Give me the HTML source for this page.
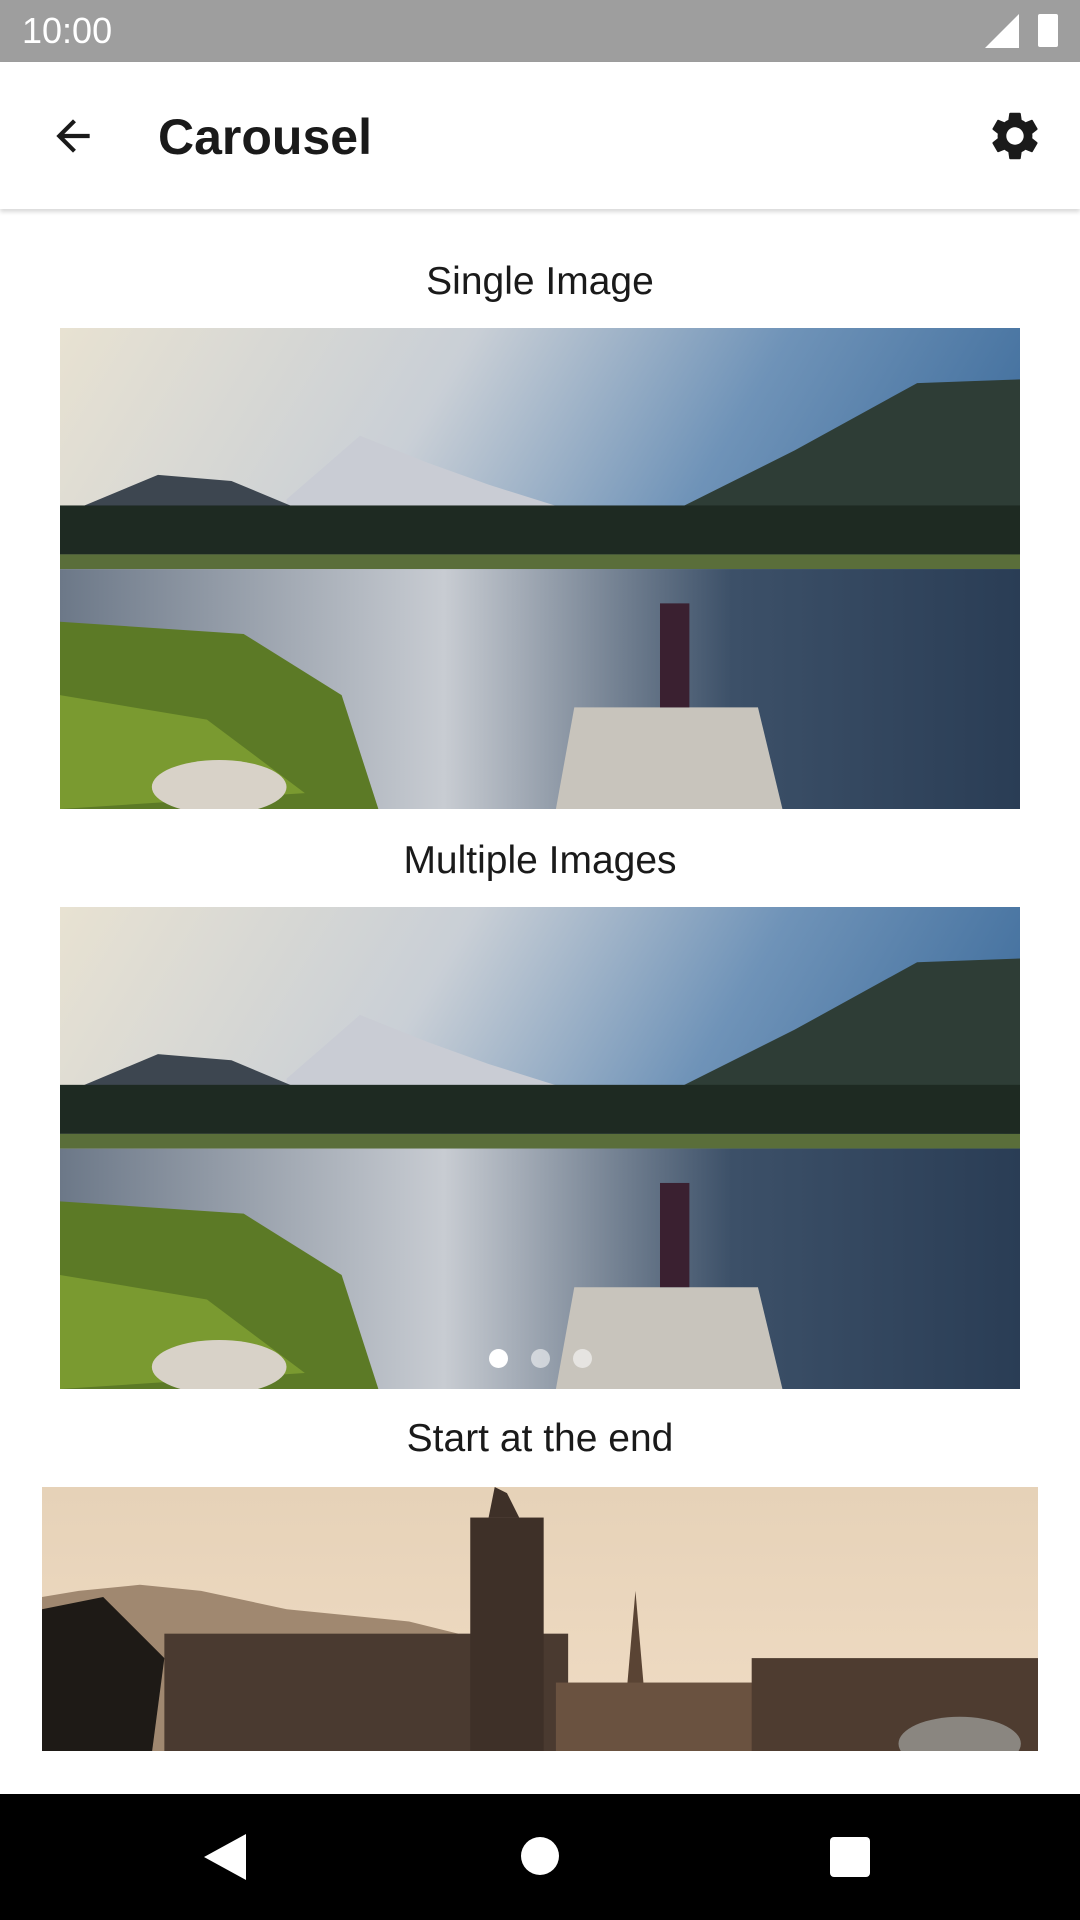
<!DOCTYPE html>
<html><head><meta charset="utf-8"><style>
body{margin:0;width:1080px;height:1920px;background:#fff;font-family:"Liberation Sans",sans-serif;position:relative;overflow:hidden}
.abs{position:absolute}
.cap{position:absolute;left:0;width:1080px;text-align:center;font-size:39px;color:#1a1a1a}
</style></head><body>
<div class="abs" style="left:0;top:0;width:1080px;height:62px;background:#9e9e9e">
 <span class="abs" style="left:22px;top:10px;color:#fff;font-size:36px">10:00</span>
 <svg class="abs" style="left:985px;top:14px" width="34" height="34"><polygon points="34,0 34,34 0,34" fill="#fff"/></svg>
 <div class="abs" style="left:1038px;top:14px;width:20px;height:33px;background:#fff;border-radius:2px"></div>
</div>
<div class="abs" style="left:0;top:62px;width:1080px;height:147px;background:#fff;box-shadow:0 3px 4px rgba(0,0,0,0.15)">
 <svg class="abs" style="left:48px;top:49px" width="50" height="50" viewBox="0 0 24 24"><path d="M20 11H7.83l5.59-5.59L12 4l-8 8 8 8 1.41-1.41L7.83 13H20v-2z" fill="#1a1a1a"/></svg>
 <span class="abs" style="left:158px;top:46px;font-size:50px;font-weight:bold;color:#1a1a1a">Carousel</span>
 <svg class="abs" style="left:986px;top:45px" width="58" height="58" viewBox="0 0 24 24"><path fill="#1a1a1a" d="M19.14 12.94c.04-.3.06-.61.06-.94 0-.32-.02-.64-.07-.94l2.030-1.58a.49.49 0 00.12-.61l-1.92-3.32a.488.488 0 00-.59-.22l-2.39.96c-.5-.38-1.03-.7-1.62-.94l-.36-2.54a.484.484 0 00-.48-.41h-3.84c-.24 0-.43.17-.47.41l-.36 2.54c-.59.24-1.13.57-1.62.94l-2.39-.96c-.22-.08-.47 0-.59.22L2.74 8.87c-.12.21-.08.47.12.61l2.030 1.58c-.05.3-.09.63-.09.94s.02.64.07.94l-2.030 1.58a.49.49 0 00-.12.61l1.92 3.32c.12.22.37.29.59.22l2.39-.96c.5.38 1.03.7 1.62.94l.36 2.54c.05.24.24.41.48.41h3.84c.24 0 .44-.17.47-.41l.36-2.54c.59-.24 1.13-.56 1.62-.94l2.39.96c.22.08.47 0 .59-.22l1.92-3.32c.12-.22.07-.47-.12-.61l-2.010-1.58zM12 15.6c-1.98 0-3.6-1.62-3.6-3.6s1.62-3.6 3.6-3.6 3.6 1.62 3.6 3.6-1.62 3.6-3.6 3.6z"/></svg>
</div>

<div class="cap" style="top:260px">Single Image</div>
<svg class="abs" style="left:60px;top:328px" width="960" height="481" viewBox="0 0 784 393" preserveAspectRatio="none">
 <defs>
  <linearGradient id="sky" x1="0" y1="0" x2="1" y2="0.3"><stop offset="0" stop-color="#e8e2d2"/><stop offset="0.4" stop-color="#c9cfd6"/><stop offset="0.7" stop-color="#6f93b8"/><stop offset="1" stop-color="#3f6d9c"/></linearGradient>
  <linearGradient id="wat" x1="0" y1="0" x2="1" y2="0"><stop offset="0" stop-color="#6c7888"/><stop offset="0.4" stop-color="#c8ccd2"/><stop offset="0.7" stop-color="#3c5068"/><stop offset="1" stop-color="#2a3d55"/></linearGradient>
 </defs>
 <g id="land">
 <rect width="784" height="393" fill="url(#sky)"/>
 <polygon points="185,140 245,88 300,110 350,128 420,150 440,170 185,170" fill="#c9ccd4"/>
 <polygon points="20,145 80,120 140,125 200,150 200,170 20,170" fill="#3d4650"/>
 <polygon points="440,180 600,100 700,45 784,42 784,185" fill="#2e3d36"/>
 <rect y="145" width="784" height="40" fill="#1e2a22"/>
 <rect y="185" width="784" height="12" fill="#5a6e3a"/>
 <rect y="197" width="784" height="196" fill="url(#wat)"/>
 <polygon points="0,240 150,250 230,300 260,393 0,393" fill="#5c7a26"/>
 <polygon points="0,300 120,320 200,380 0,393" fill="#7a9a30"/>
 <polygon points="420,310 570,310 590,393 405,393" fill="#c8c4bc"/>
 <rect x="490" y="225" width="24" height="85" fill="#3a2030"/>
 <ellipse cx="130" cy="375" rx="55" ry="22" fill="#d8d2c8"/>
 </g>
</svg>

<div class="cap" style="top:839px">Multiple Images</div>
<svg class="abs" style="left:60px;top:907px" width="960" height="482" viewBox="0 0 784 393" preserveAspectRatio="none">
 <use href="#land"/>
</svg>
<div class="abs" style="left:489px;top:1349px;width:19px;height:19px;border-radius:50%;background:#fff"></div>
<div class="abs" style="left:531px;top:1349px;width:19px;height:19px;border-radius:50%;background:rgba(255,255,255,0.55)"></div>
<div class="abs" style="left:573px;top:1349px;width:19px;height:19px;border-radius:50%;background:rgba(255,255,255,0.55)"></div>

<div class="cap" style="top:1417px">Start at the end</div>
<svg class="abs" style="left:42px;top:1487px" width="996" height="264" viewBox="0 0 814 216" preserveAspectRatio="none">
 <defs><linearGradient id="csky" x1="0" y1="0" x2="0" y2="1"><stop offset="0" stop-color="#e6d2b8"/><stop offset="1" stop-color="#f0dcc4"/></linearGradient></defs>
 <rect width="814" height="216" fill="url(#csky)"/>
 <polygon points="0,90 30,85 80,80 130,85 200,100 300,110 340,120 340,216 0,216" fill="#a08870"/>
 <rect x="100" y="120" width="330" height="96" fill="#4a3a30"/>
 <rect x="350" y="25" width="60" height="191" fill="#3e3028"/>
 <polygon points="370,0 380,5 390,25 365,25" fill="#3e3028"/>
 <polygon points="485,85 495,200 475,200" fill="#5a4434"/>
 <rect x="420" y="160" width="394" height="56" fill="#6a5240"/>
 <rect x="580" y="140" width="234" height="76" fill="#4e3c30"/>
 <polygon points="0,100 50,90 100,140 90,216 0,216" fill="#1e1a16"/>
 <ellipse cx="750" cy="210" rx="50" ry="22" fill="#8a8680"/>
</svg>

<div class="abs" style="left:0;top:1794px;width:1080px;height:126px;background:#000">
 <svg class="abs" style="left:204px;top:40px" width="42" height="46"><polygon points="42,0 42,46 0,23" fill="#fff"/></svg>
 <div class="abs" style="left:521px;top:43px;width:38px;height:38px;border-radius:50%;background:#fff"></div>
 <div class="abs" style="left:830px;top:43px;width:40px;height:40px;border-radius:4px;background:#fff"></div>
</div>
</body></html>
